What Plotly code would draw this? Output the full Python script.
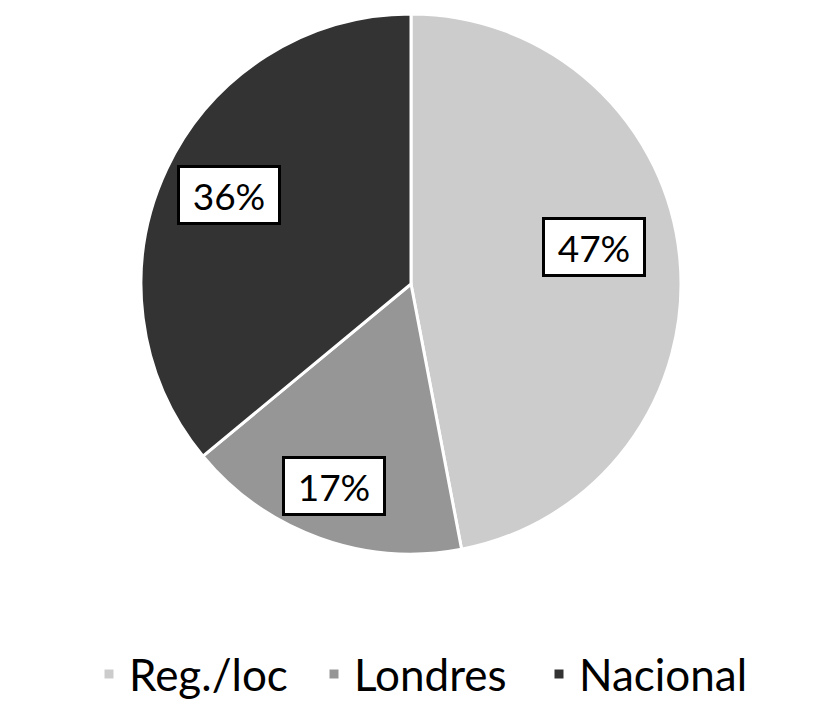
import math
import plotly.graph_objects as go

# -------------------------------------------------
# Data
# -------------------------------------------------
categories = ["Reg./loc", "Londres", "Nacional"]
values = [47, 17, 36]
colors = ["#cccccc", "#969696", "#333333"]

# label placement (fraction of radius, angle shift in degrees)
label_radius = [0.69, 0.80, 0.75]
label_shift = [-6, 1, 1]

W, H = 817, 710
CX, CY, R = 411, 284, 270  # pie centre / radius in px

dom_x = [(CX - R) / W, (CX + R) / W]
dom_y = [(H - CY - R) / H, (H - CY + R) / H]

fig = go.Figure(
    go.Pie(
        labels=categories,
        values=values,
        marker=dict(colors=colors, line=dict(color="white", width=3)),
        sort=False,
        direction="clockwise",
        rotation=0,
        textinfo="none",
        hoverinfo="label+percent",
        domain=dict(x=dom_x, y=dom_y),
    )
)

# -------------------------------------------------
# Boxed percentage labels, placed from slice angles
# -------------------------------------------------
total = sum(values)
start = 0.0
for i, v in enumerate(values):
    span = 360.0 * v / total
    mid = math.radians(start + span / 2 + label_shift[i])
    r = R * label_radius[i]
    px_x = CX + r * math.sin(mid)
    px_y = CY - r * math.cos(mid)
    fig.add_annotation(
        x=px_x / W,
        y=1 - px_y / H,
        xref="paper",
        yref="paper",
        xanchor="center",
        yanchor="middle",
        text=f"{round(100 * v / total)}%",
        showarrow=False,
        font=dict(family="Lato", size=37, color="black"),
        bgcolor="white",
        bordercolor="black",
        borderwidth=3,
        borderpad=3,
        width=92,
        height=48,
    )
    start += span

fig.update_layout(
    width=W,
    height=H,
    margin=dict(l=0, r=0, t=0, b=0),
    paper_bgcolor="white",
    plot_bgcolor="white",
    font=dict(family="Lato", color="black"),
    showlegend=True,
    legend=dict(
        orientation="h",
        x=89 / W,
        xanchor="left",
        y=0,
        yanchor="bottom",
        font=dict(family="Lato", size=44, color="black"),
        itemwidth=30,
        entrywidth=180,
    ),
)

fig.write_html(
    "out.html",
    config={"displayModeBar": False},
    post_script="document.body.style.margin='0px';",
)
